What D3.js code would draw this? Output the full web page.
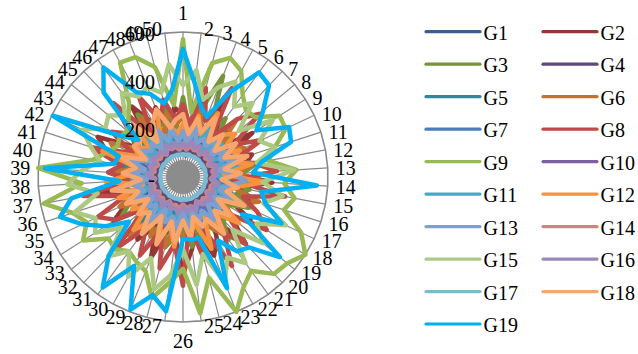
<!DOCTYPE html>
<html>
<head>
<meta charset="utf-8">
<script src="https://cdn.jsdelivr.net/npm/d3@7/dist/d3.min.js"></script>
<style>
  html, body { margin: 0; padding: 0; background: #ffffff; }
  svg { display: block; }
  svg text { font-family: "Liberation Serif", "Times New Roman", serif; }
</style>
</head>
<body>
<svg id="chart" width="638" height="354"></svg>
<script>
// Radial axes 1..50
const axes = d3.range(1, 51).map(String);
const radialTicks = [0, 200, 400, 600];
const radialTickLabels = ["-", "200", "400", "600"];
const seriesNames = ["G1","G2","G3","G4","G5","G6","G7","G8","G9","G10",
                     "G11","G12","G13","G14","G15","G16","G17","G18","G19"];
const seriesColors = ["#3A5F8C","#943634","#76933C","#5F497A","#31859C","#C0732F",
                      "#4A7EBB","#BE4B48","#98B954","#7D60A0","#46AAC5","#F69240",
                      "#7F9FCF","#D08482","#ABC982","#9B87B9","#7CBAD2","#F9A66E","#00B0F0"];

const G1  = [180,120,210,140,190,110,230,150,170,120,200,130,220,140,180,115,210,150,190,120,240,140,200,125,230,160,190,130,210,145,180,120,220,140,200,130,190,150,210,125,230,140,180,120,200,150,220,130,190,140];
const G2  = [260,200,320,180,350,230,280,190,340,210,300,260,220,370,240,300,200,330,260,380,210,290,350,220,300,400,250,210,360,230,320,280,200,340,260,220,350,190,300,240,330,390,230,280,210,360,250,310,200,290];
const G3  = [330,200,280,450,240,300,190,260,230,280,200,310,250,190,280,230,300,210,260,240,320,200,270,230,290,210,250,300,200,260,230,280,210,300,240,190,270,230,300,210,260,240,220,280,200,320,250,230,290,210];
const G4  = [110,90,130,100,120,95,125,100,115,90,130,100,120,95,110,100,125,90,120,100,130,95,115,100,125,90,120,100,110,95,130,100,120,90,115,100,125,95,120,100,110,90,130,100,120,95,125,100,115,95];
const G5  = [200,150,240,170,210,140,250,160,190,230,150,200,170,240,160,210,180,150,230,170,200,150,250,180,210,160,190,230,150,200,170,250,160,210,240,150,190,170,220,260,180,230,150,210,170,260,190,150,240,170];
const G6  = [250,180,300,210,260,190,320,200,240,280,190,300,220,350,200,330,260,190,280,210,300,240,180,320,220,260,190,300,210,280,200,330,230,190,290,220,260,200,310,190,280,330,210,250,190,300,240,200,270,220];
const G7  = [200,140,180,160,220,130,190,150,210,140,230,160,200,130,180,150,220,140,190,160,210,130,230,150,200,140,180,160,220,130,190,150,210,140,230,160,200,130,180,150,220,140,190,160,210,130,230,150,200,140];
const G8  = [300,220,380,250,420,200,330,410,250,360,220,300,390,210,430,260,340,410,230,380,290,420,240,350,200,450,280,390,230,370,260,410,200,330,390,250,420,220,310,260,400,230,350,280,420,210,380,250,330,240];
const G9  = [570,270,487,530,500,420,380,388,473,470,400,360,470,420,470,440,540,600,560,550,480,520,600,430,569,380,440,517,420,400,380,410,400,490,440,480,586,420,600,380,330,300,310,300,330,380,540,533,470,300];
const G10 = [140,110,135,120,145,115,130,125,140,110,150,120,135,115,145,125,130,110,140,120,150,115,135,125,145,110,130,120,140,115,150,125,135,110,145,120,130,115,140,125,150,110,135,120,145,115,130,125,140,110];
const G11 = [180,130,200,150,220,140,170,210,130,190,160,230,140,180,200,130,210,150,180,140,230,160,190,130,210,170,150,220,140,190,160,200,130,180,220,150,170,210,140,190,230,150,180,140,210,160,190,130,200,150];
const G12 = [220,160,260,190,300,170,240,280,180,260,200,290,170,340,220,190,280,170,300,210,250,180,320,200,240,170,290,210,260,180,230,300,190,250,200,280,170,320,210,190,350,200,240,180,270,210,190,300,220,180];
const G13 = [190,140,210,150,180,160,220,140,200,170,230,150,210,260,190,160,230,150,200,140,220,160,190,150,240,140,210,170,200,150,230,160,190,140,220,170,200,150,210,160,240,150,200,170,190,140,220,160,210,150];
const G14 = [130,115,135,120,125,115,140,120,130,115,135,125,130,115,140,120,125,115,135,120,130,115,140,125,130,115,135,120,125,115,140,120,130,115,135,125,130,115,140,120,125,115,135,120,130,115,140,125,130,115];
const G15 = [380,445,330,400,450,360,420,300,440,350,400,310,460,330,420,350,470,360,430,300,440,380,470,330,450,300,410,480,360,470,380,450,330,430,400,470,360,480,420,350,400,460,380,400,350,430,380,400,360,470];
const G16 = [140,125,150,130,145,120,150,130,140,125,150,135,140,120,150,130,145,125,150,135,140,120,150,130,145,125,150,135,140,120,150,130,145,125,150,135,140,120,150,130,145,125,150,135,140,120,150,130,145,125];
const G17 = [95,92,96,93,95,94,96,92,95,93,96,94,95,92,96,93,95,94,96,92,95,93,96,94,95,92,96,93,95,94,96,92,95,93,96,94,95,92,96,93,95,94,96,92,95,93,96,94,95,92];
const G18 = [260,180,250,200,280,180,240,170,260,190,280,175,240,160,230,190,280,170,250,190,290,200,220,170,260,180,270,190,300,185,290,200,240,170,260,195,300,175,250,200,270,170,240,230,290,180,260,300,210,240];
const G19 = [530,390,300,268,400,535,520,430,360,485,470,330,290,555,330,360,450,290,520,400,380,300,495,260,262,255,560,505,590,420,565,450,290,380,460,535,470,265,572,290,280,595,330,240,480,560,400,370,314,362];

const seriesValues = [G1,G2,G3,G4,G5,G6,G7,G8,G9,G10,G11,G12,G13,G14,G15,G16,G17,G18,G19];

const svg = d3.select("#chart");
const cx = 183, cy = 177, R = 145;
const n = axes.length;
const step = 2 * Math.PI / n;

const r = d3.scaleLinear().domain([0, 600]).range([0, R]);

const g = svg.append("g").attr("transform", `translate(${cx},${cy})`);

// spokes
g.append("g").selectAll("line")
  .data(axes)
  .join("line")
  .attr("x1", 0).attr("y1", 0)
  .attr("x2", (d, i) => r(600) * Math.sin(i * step))
  .attr("y2", (d, i) => -r(600) * Math.cos(i * step))
  .attr("stroke", "#898989")
  .attr("stroke-width", 1.2);

// dense hub where the spokes meet
g.append("circle").attr("r", 17).attr("fill", "#8C8C8C");

// outer grid polygon
const ring = d3.lineRadial()
  .angle((d, i) => i * step)
  .radius(d => r(d))
  .curve(d3.curveLinearClosed);

g.append("path")
  .attr("d", ring(axes.map(() => 600)))
  .attr("fill", "none")
  .attr("stroke", "#898989")
  .attr("stroke-width", 1.6);

// series
const line = d3.lineRadial()
  .angle((d, i) => i * step)
  .radius(d => r(d))
  .curve(d3.curveLinearClosed);

g.append("g").selectAll("path")
  .data(seriesValues)
  .join("path")
  .attr("d", d => line(d))
  .attr("fill", "none")
  .attr("stroke", (d, i) => seriesColors[i])
  .attr("stroke-width", 4.5)
  .attr("stroke-linejoin", "round");

// radial tick labels along the first axis
g.append("g").selectAll("text")
  .data(radialTicks)
  .join("text")
  .attr("x", -28)
  .attr("y", (d) => -r(d) + 2 + 6.7)
  .attr("text-anchor", "end")
  .attr("font-size", 20)
  .text((d, i) => radialTickLabels[i]);

// axis category labels
g.append("g").selectAll("text")
  .data(axes)
  .join("text")
  .attr("font-size", 20)
  .each(function (d, i) {
    const a = i * step;
    const s = Math.sin(a), c = Math.cos(a);
    const tx = R * s, ty = -R * c;
    const el = d3.select(this).text(d);
    let x, y, anchor;
    if (Math.abs(s) < 1e-6) {
      anchor = "middle";
      x = tx;
      y = c > 0 ? ty - 19 : ty + 19;
    } else {
      const gap = 2 + 6 * Math.abs(s);
      anchor = s > 0 ? "start" : "end";
      x = s > 0 ? tx + gap : tx - gap;
      y = ty - c * 4.5 + 1;
    }
    el.attr("x", x).attr("y", y + 6.7).attr("text-anchor", anchor);
  });

// legend
const legend = svg.append("g");
const rowY0 = 31.7, rowStep = 32.48;
seriesNames.forEach((name, i) => {
  const col = i % 2, row = Math.floor(i / 2);
  const x0 = col === 0 ? 426 : 543;
  const y = rowY0 + row * rowStep;
  legend.append("line")
    .attr("x1", x0).attr("x2", x0 + 54)
    .attr("y1", y).attr("y2", y)
    .attr("stroke", seriesColors[i])
    .attr("stroke-width", 3.2)
    .attr("stroke-linecap", "round");
  legend.append("text")
    .attr("x", x0 + 57.5)
    .attr("y", y + 8.3)
    .attr("font-size", 20)
    .text(name);
});
</script>
</body>
</html>
